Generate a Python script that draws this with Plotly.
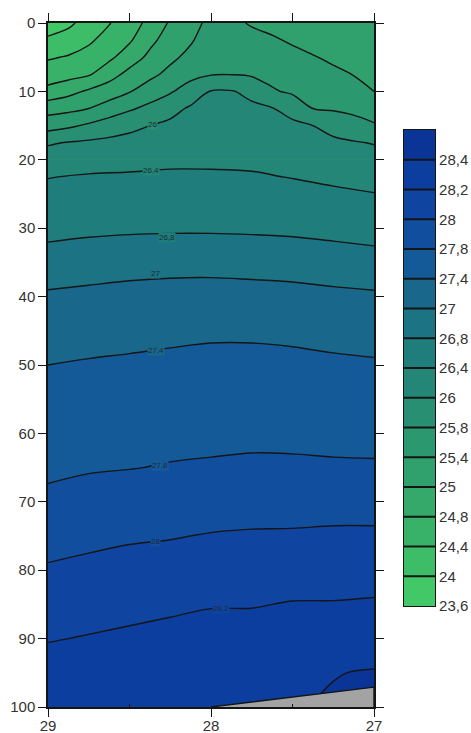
import numpy as np
import plotly.graph_objects as go

# ---- data -------------------------------------------------------------
# upper layer (0-20 m) sampled every 0.125 deg of longitude
lon_upper = [29, 28.875, 28.75, 28.625, 28.5, 28.375, 28.25, 28.125, 28,
             27.875, 27.75, 27.625, 27.5, 27.375, 27.25, 27.125, 27]
depth_upper = [0, 2.5, 5, 7.5, 10, 12.5, 15, 17.5, 20]
temp_upper = [
    [23.77, 23.92, 24.16, 24.38, 24.63, 24.85, 25.05, 25.27, 25.50, 25.47, 25.37, 25.30, 25.22, 25.15, 25.10, 25.07, 25.05],
    [24.07, 24.17, 24.34, 24.54, 24.75, 24.95, 25.18, 25.36, 25.60, 25.58, 25.50, 25.44, 25.36, 25.28, 25.22, 25.18, 25.14],
    [24.36, 24.43, 24.54, 24.72, 24.90, 25.09, 25.32, 25.50, 25.69, 25.69, 25.63, 25.56, 25.49, 25.42, 25.34, 25.28, 25.22],
    [24.60, 24.66, 24.76, 24.92, 25.12, 25.31, 25.50, 25.69, 25.78, 25.79, 25.75, 25.69, 25.61, 25.54, 25.47, 25.39, 25.31],
    [24.86, 24.94, 25.06, 25.21, 25.38, 25.59, 25.76, 25.89, 26.02, 26.02, 25.96, 25.82, 25.74, 25.67, 25.62, 25.54, 25.40],
    [25.25, 25.30, 25.40, 25.57, 25.75, 25.85, 25.94, 26.05, 26.10, 26.10, 26.06, 26.02, 25.93, 25.80, 25.76, 25.71, 25.61],
    [25.63, 25.73, 25.83, 25.90, 25.95, 26.00, 26.08, 26.15, 26.18, 26.18, 26.15, 26.12, 26.08, 26.00, 25.93, 25.87, 25.82],
    [25.98, 26.02, 26.06, 26.09, 26.13, 26.16, 26.21, 26.25, 26.27, 26.26, 26.25, 26.22, 26.18, 26.12, 26.08, 26.03, 25.99],
    [26.19, 26.22, 26.26, 26.28, 26.30, 26.32, 26.34, 26.35, 26.35, 26.35, 26.34, 26.31, 26.28, 26.24, 26.21, 26.17, 26.14],
]

# lower layer (20-100 m) sampled every 0.25 deg of longitude
lon_lower = [29, 28.75, 28.5, 28.25, 28, 27.75, 27.5, 27.25, 27]
depth_lower = [20, 22.5, 25, 30, 35, 40, 45, 50, 55, 60, 65, 70, 75, 80,
               85, 90, 95, 100]
temp_lower = [
    [26.19, 26.26, 26.30, 26.34, 26.35, 26.34, 26.28, 26.21, 26.14],
    [26.39, 26.43, 26.44, 26.45, 26.44, 26.43, 26.39, 26.33, 26.28],
    [26.49, 26.52, 26.54, 26.55, 26.55, 26.53, 26.50, 26.46, 26.41],
    [26.69, 26.72, 26.74, 26.75, 26.75, 26.74, 26.72, 26.69, 26.65],
    [26.88, 26.91, 26.93, 26.94, 26.94, 26.93, 26.92, 26.89, 26.87],
    [27.06, 27.09, 27.12, 27.14, 27.15, 27.14, 27.12, 27.09, 27.06],
    [27.23, 27.27, 27.30, 27.33, 27.35, 27.35, 27.33, 27.29, 27.26],
    [27.40, 27.43, 27.45, 27.47, 27.49, 27.49, 27.48, 27.46, 27.44],
    [27.51, 27.54, 27.57, 27.59, 27.60, 27.60, 27.60, 27.58, 27.57],
    [27.62, 27.66, 27.68, 27.70, 27.71, 27.72, 27.71, 27.71, 27.69],
    [27.73, 27.77, 27.79, 27.81, 27.82, 27.83, 27.83, 27.82, 27.82],
    [27.84, 27.87, 27.89, 27.90, 27.91, 27.92, 27.93, 27.93, 27.93],
    [27.93, 27.96, 27.98, 27.99, 28.01, 28.02, 28.02, 28.03, 28.03],
    [28.02, 28.04, 28.06, 28.08, 28.10, 28.11, 28.11, 28.12, 28.12],
    [28.11, 28.13, 28.15, 28.17, 28.19, 28.19, 28.21, 28.21, 28.22],
    [28.19, 28.21, 28.23, 28.25, 28.27, 28.28, 28.30, 28.30, 28.32],
    [28.28, 28.30, 28.31, 28.33, 28.34, 28.36, 28.36, 28.395, 28.42],
    [28.36, 28.38, 28.39, 28.39, 28.39, 28.39, 28.39, 28.43, 28.48],
]

levels = [23.6, 24, 24.4, 24.8, 25, 25.4, 25.8, 26, 26.4, 26.8,
          27, 27.4, 27.8, 28, 28.2, 28.4]
level_text = ["23,6", "24", "24,4", "24,8", "25", "25,4", "25,8", "26",
              "26,4", "26,8", "27", "27,4", "27,8", "28", "28,2", "28,4"]
labelled_levels = [26, 26.4, 26.8, 27, 27.4, 27.8, 28, 28.2]

# blanked (no data) area near the bottom
blank_lon = [28, 27, 27]
blank_depth = [100, 97.1, 100]

# ---- styling ------------------------------------------------------------
band_colors = ["#42c866", "#3dbd67", "#38b268", "#34a96a", "#30a06c",
               "#2c986f", "#288f72", "#238676", "#1f7d7c", "#1c7383",
               "#19688b", "#155a98", "#124e9e", "#0f45a0", "#0c3ea0",
               "#0a3596"]
label_lon = {26: 28.36, 26.4: 28.37, 26.8: 28.27, 27: 28.34, 27.4: 28.34,
             27.8: 28.31, 28: 28.34, 28.2: 27.94}
LINE = "#151515"
FONT = "Liberation Sans, Arial, sans-serif"
AX = dict(family=FONT, size=15, color="#333333")

n = len(levels)
lev_ext = [levels[0] - 0.4] + levels + [levels[-1] + 0.4]
idx_ext = list(range(-1, n + 1))


def band_index(t):
    # uneven contour levels -> evenly spaced index (level k sits at k)
    return np.interp(np.array(t), lev_ext, idx_ext)


# colours are sampled at band mid-points k + 0.5 over the domain [-0.5, n - 0.5]
cscale = [[0.0, band_colors[0]]]
for k, c in enumerate(band_colors):
    cscale.append([(k + 1) / n, c])

contour_style = dict(
    contours=dict(start=0, end=n - 1, size=1, coloring="fill", showlines=True),
    colorscale=cscale, showscale=False,
    line=dict(color=LINE, width=1.4, smoothing=1.0),
    hoverinfo="skip",
)

fig = go.Figure()
fig.add_trace(go.Contour(x=lon_lower, y=depth_lower, z=band_index(temp_lower), **contour_style))
fig.add_trace(go.Contour(x=lon_upper, y=depth_upper, z=band_index(temp_upper), **contour_style))

fig.add_trace(go.Scatter(
    x=blank_lon, y=blank_depth, xaxis="x2", yaxis="y",
    mode="lines", fill="toself", fillcolor="#a3a3a3",
    line=dict(color=LINE, width=1.4), hoverinfo="skip", showlegend=False,
))


def column_at(xl):
    up = [np.interp(xl, lon_upper[::-1], row[::-1]) for row in temp_upper]
    lo = [np.interp(xl, lon_lower[::-1], row[::-1]) for row in temp_lower]
    return np.array(up[:-1] + lo), np.array(depth_upper[:-1] + depth_lower)


# contour labels where each labelled level crosses the chosen longitude
for lev in labelled_levels:
    xl = label_lon[lev]
    col, dep = column_at(xl)
    yl = float(np.interp(lev, col, dep))
    k = levels.index(lev)
    fig.add_annotation(
        x=xl, y=yl, text=level_text[k], showarrow=False,
        font=dict(family=FONT, size=8, color="#1d2b35"),
        bgcolor=band_colors[k - 1], borderpad=0,
    )

# colour scale bar with dividers at each level
fig.add_trace(go.Heatmap(
    x=[0], y=[k + 0.5 for k in range(n)], z=[[k] for k in range(n)],
    colorscale=[[k / (n - 1), c] for k, c in enumerate(band_colors)],
    zmin=0, zmax=n - 1, showscale=False,
    xaxis="x3", yaxis="y3", hoverinfo="skip",
))
div_x, div_y = [], []
for k in range(1, n):
    div_x += [-0.5, 0.5, None]
    div_y += [k, k, None]
fig.add_trace(go.Scatter(x=div_x, y=div_y, xaxis="x3", yaxis="y3", mode="lines",
                         line=dict(color=LINE, width=2), hoverinfo="skip",
                         showlegend=False))

main_x_end = (374 - 48) / 388
axis_common = dict(showline=True, linecolor=LINE, linewidth=1.5,
                   tickcolor=LINE, tickwidth=1.3, ticklen=8, automargin=False,
                   showgrid=False, zeroline=False, tickfont=AX)

fig.update_layout(
    width=471, height=733,
    margin=dict(l=48, r=35, t=23, b=26, autoexpand=False),
    paper_bgcolor="white", plot_bgcolor=band_colors[7],
    separators=",.",
    showlegend=False,
    xaxis=dict(domain=[0, main_x_end], range=[29, 27], tickvals=[29, 28, 27],
               ticktext=["29", "28", "27"], ticks="outside", ticklabelstandoff=-4,
               minor=dict(tickmode="array", tickvals=[28.5, 27.5], ticks="inside",
                          ticklen=3, tickcolor=LINE),
               **axis_common),
    xaxis2=dict(domain=[0, main_x_end], range=[29, 27], overlaying="x", side="top",
                anchor="y", tickvals=[29, 28.5, 28, 27.5, 27], ticks="outside",
                showticklabels=False, **axis_common),
    yaxis=dict(domain=[0, 1], range=[100, 0], tickvals=list(range(0, 101, 10)),
               ticks="outside", mirror="ticks", **axis_common),
    xaxis3=dict(domain=[(404 - 48) / 388, (435 - 48) / 388], range=[-0.5, 0.5],
                anchor="y3", showticklabels=False, showgrid=False, zeroline=False,
                automargin=False, showline=True, mirror=True, linecolor=LINE,
                linewidth=1.2, ticks=""),
    yaxis3=dict(domain=[(707 - 606) / 684, (707 - 130) / 684], range=[0, n],
                anchor="x3", side="right", tickvals=list(range(n)), ticktext=level_text,
                ticks="", showgrid=False, zeroline=False, showline=True, mirror=True,
                automargin=False, linecolor=LINE, linewidth=1.2, tickfont=AX),
)

fig.write_html("out.html")
